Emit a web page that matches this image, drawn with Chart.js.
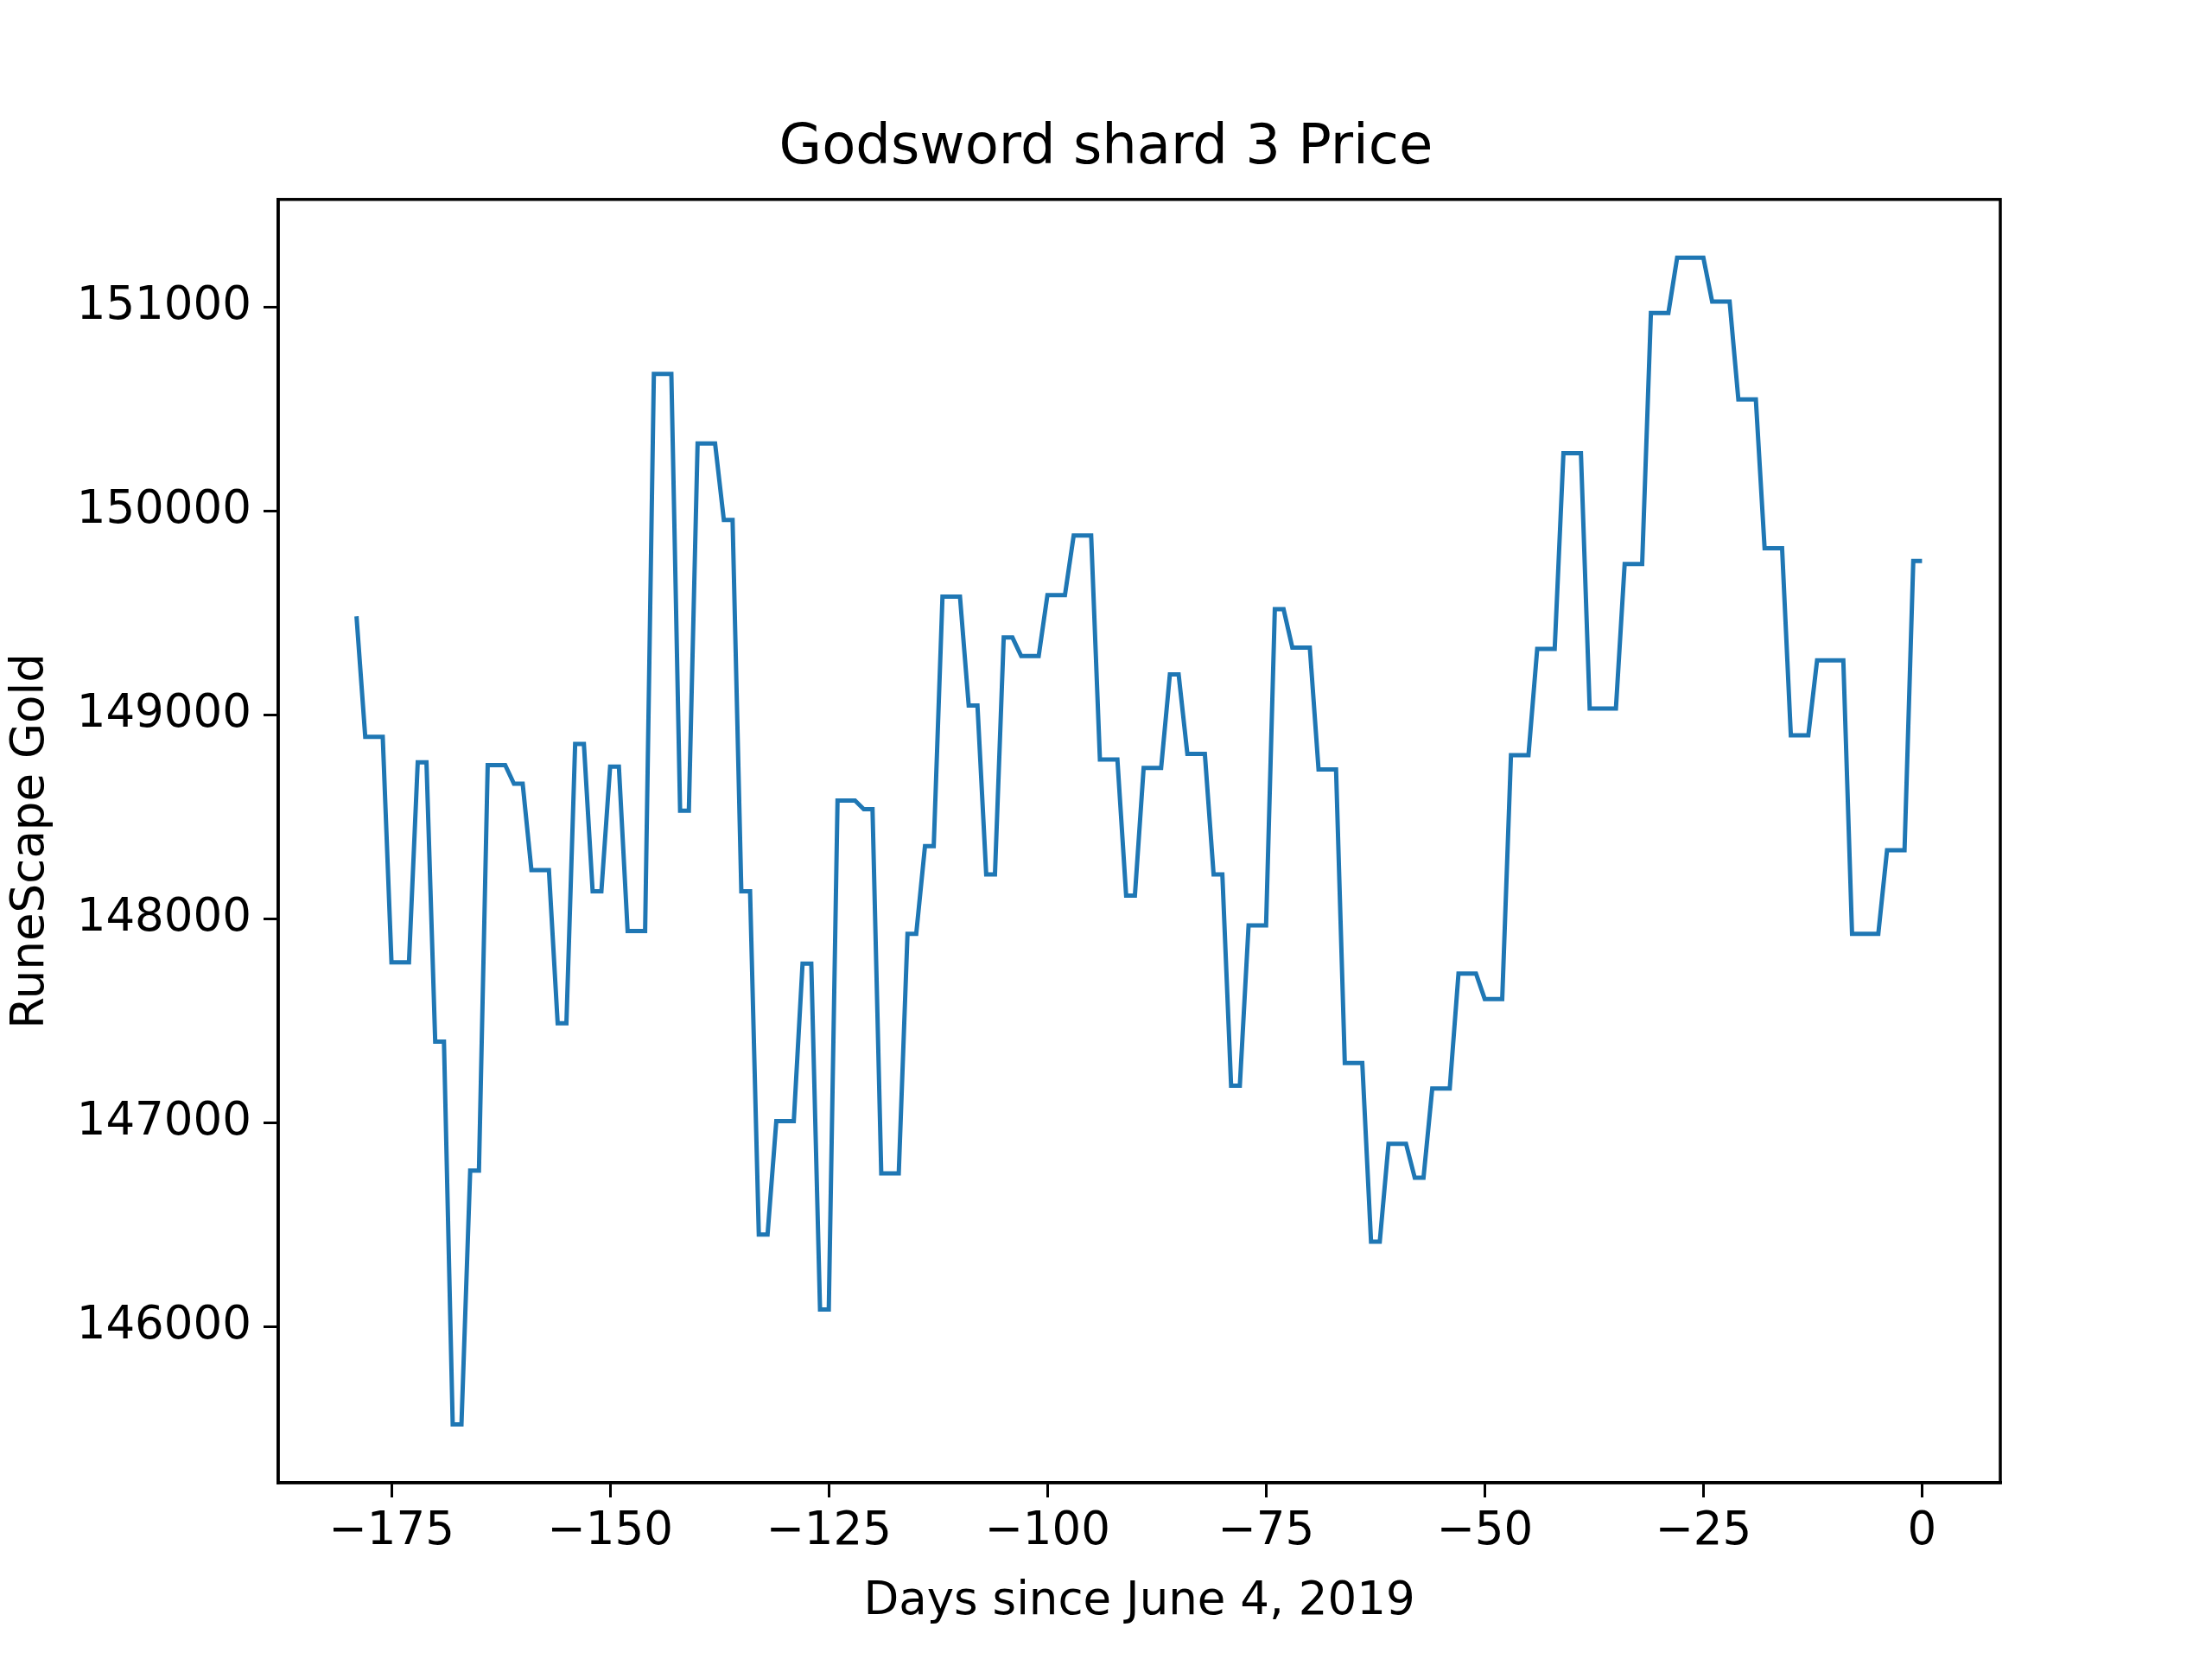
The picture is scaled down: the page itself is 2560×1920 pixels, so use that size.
<!DOCTYPE html>
<html>
<head>
<meta charset="utf-8">
<title>Godsword shard 3 Price</title>
<script src="https://cdn.jsdelivr.net/npm/chart.js@4.4.1/dist/chart.umd.min.js"></script>
<style>
  body { margin: 0; background: #fff; }
</style>
</head>
<body>
<canvas id="price_chart" width="2560" height="1920" style="width:2560px;height:1920px"></canvas>
<script>
  // values (line vertices)
  var days = [-179,-178,-176,-175,-173,-172,-171,-170,-169,-168,-167,-166,-165,-164,-162,-161,-160,-159,-157,-156,
    -155,-154,-153,-152,-151,-150,-149,-148,-146,-145,-143,-142,-141,-140,-138,-137,-136,-135,-134,-133,
    -132,-131,-129,-128,-127,-126,-125,-124,-122,-121,-120,-119,-117,-116,-115,-114,-113,-112,-110,-109,
    -108,-107,-106,-105,-104,-103,-101,-100,-98,-97,-95,-94,-92,-91,-90,-89,-87,-86,-85,-84,
    -82,-81,-80,-79,-78,-77,-75,-74,-73,-72,-70,-69,-67,-66,-64,-63,-62,-61,-59,-58,
    -57,-56,-54,-53,-51,-50,-48,-47,-45,-44,-42,-41,-39,-38,-35,-34,-32,-31,-29,-28,
    -25,-24,-22,-21,-19,-18,-16,-15,-13,-12,-9,-8,-5,-4,-2,-1,0];
  var prices = [149484,148893,148893,147787,147787,148768,148768,147398,147398,145520,145520,146765,146765,148754,148754,148663,148663,148239,148239,147488,
    147488,148858,148858,148135,148135,148747,148747,147940,147940,150673,150673,148531,148531,150332,150332,149957,149957,148135,148135,146452,
    146452,147008,147008,147780,147780,146084,146084,148580,148580,148538,148538,146751,146751,147926,147926,148357,148357,149581,149581,149046,
    149046,148218,148218,149380,149380,149289,149289,149588,149588,149880,149880,148782,148782,148114,148114,148740,148740,149199,149199,148809,
    148809,148218,148218,147182,147182,147968,147968,149519,149519,149331,149331,148733,148733,147293,147293,146417,146417,146897,146897,146730,
    146730,147168,147168,147732,147732,147607,147607,148803,148803,149324,149324,150284,150284,149032,149032,149741,149741,150972,150972,151243,
    151243,151028,151028,150548,150548,149818,149818,148900,148900,149268,149268,147926,147926,148337,148337,149755,149755];
  var xTicks = [-175,-150,-125,-100,-75,-50,-25,0];
  var yTicks = [146000,147000,148000,149000,150000,151000];

  var points = days.map(function(d, i){ return {x: d, y: prices[i]}; });

  var frame = {
    id: 'frame',
    afterDraw: function(c){
      var a = c.chartArea, g = c.ctx;
      g.save(); g.strokeStyle = '#000'; g.lineWidth = 3.5;
      g.strokeRect(a.left, a.top, a.right - a.left, a.bottom - a.top);
      g.restore();
    }
  };

  var tickFont = {family: 'DejaVu Sans', size: 53};
  var ctx = document.getElementById('price_chart').getContext('2d');
  new Chart(ctx, {
    type: 'line',
    data: { datasets: [{ data: points, borderColor: '#1f77b4', borderWidth: 5, pointRadius: 0, fill: false, tension: 0 }] },
    options: {
      responsive: false, animation: false, devicePixelRatio: 1,
      layout: { padding: 0 },
      plugins: {
        legend: { display: false }, tooltip: { enabled: false },
        title: { display: true, text: 'Godsword shard 3 Price', color: '#000',
          font: {family: 'DejaVu Sans', size: 64, weight: 'normal'}, padding: {top: 134, bottom: 20} }
      },
      scales: {
        x: {
          type: 'linear', min: -187.95, max: 8.95,
          afterBuildTicks: function(s){ s.ticks = xTicks.map(function(v){ return {value: v}; }); },
          afterFit: function(s){ s.height = 204; },
          ticks: { color: '#000', font: tickFont, padding: 8, maxRotation: 0,
            callback: function(v){ return String(v).replace('-', '\u2212'); } },
          grid: { drawOnChartArea: false, color: '#000', tickLength: 17, lineWidth: 3 },
          border: { color: '#000', width: 3.5 },
          title: { display: true, text: 'Days since June 4, 2019', color: '#000', font: tickFont, padding: {top: 4, bottom: 34} }
        },
        y: {
          min: 145234, max: 151529,
          afterBuildTicks: function(s){ s.ticks = yTicks.map(function(v){ return {value: v}; }); },
          afterFit: function(s){ s.width = 322; },
          ticks: { color: '#000', font: tickFont, padding: 14, callback: function(v){ return String(v); } },
          grid: { drawOnChartArea: false, color: '#000', tickLength: 17, lineWidth: 3 },
          border: { color: '#000', width: 3.5 },
          title: { display: true, text: 'RuneScape Gold', color: '#000', font: tickFont, padding: {bottom: 0} }
        },
        yr: {
          position: 'right', min: 0, max: 1,
          afterFit: function(s){ s.width = 245; },
          ticks: { display: false }, grid: { display: false }, border: { display: false }
        }
      }
    },
    plugins: [frame]
  });
</script>
</body>
</html>
